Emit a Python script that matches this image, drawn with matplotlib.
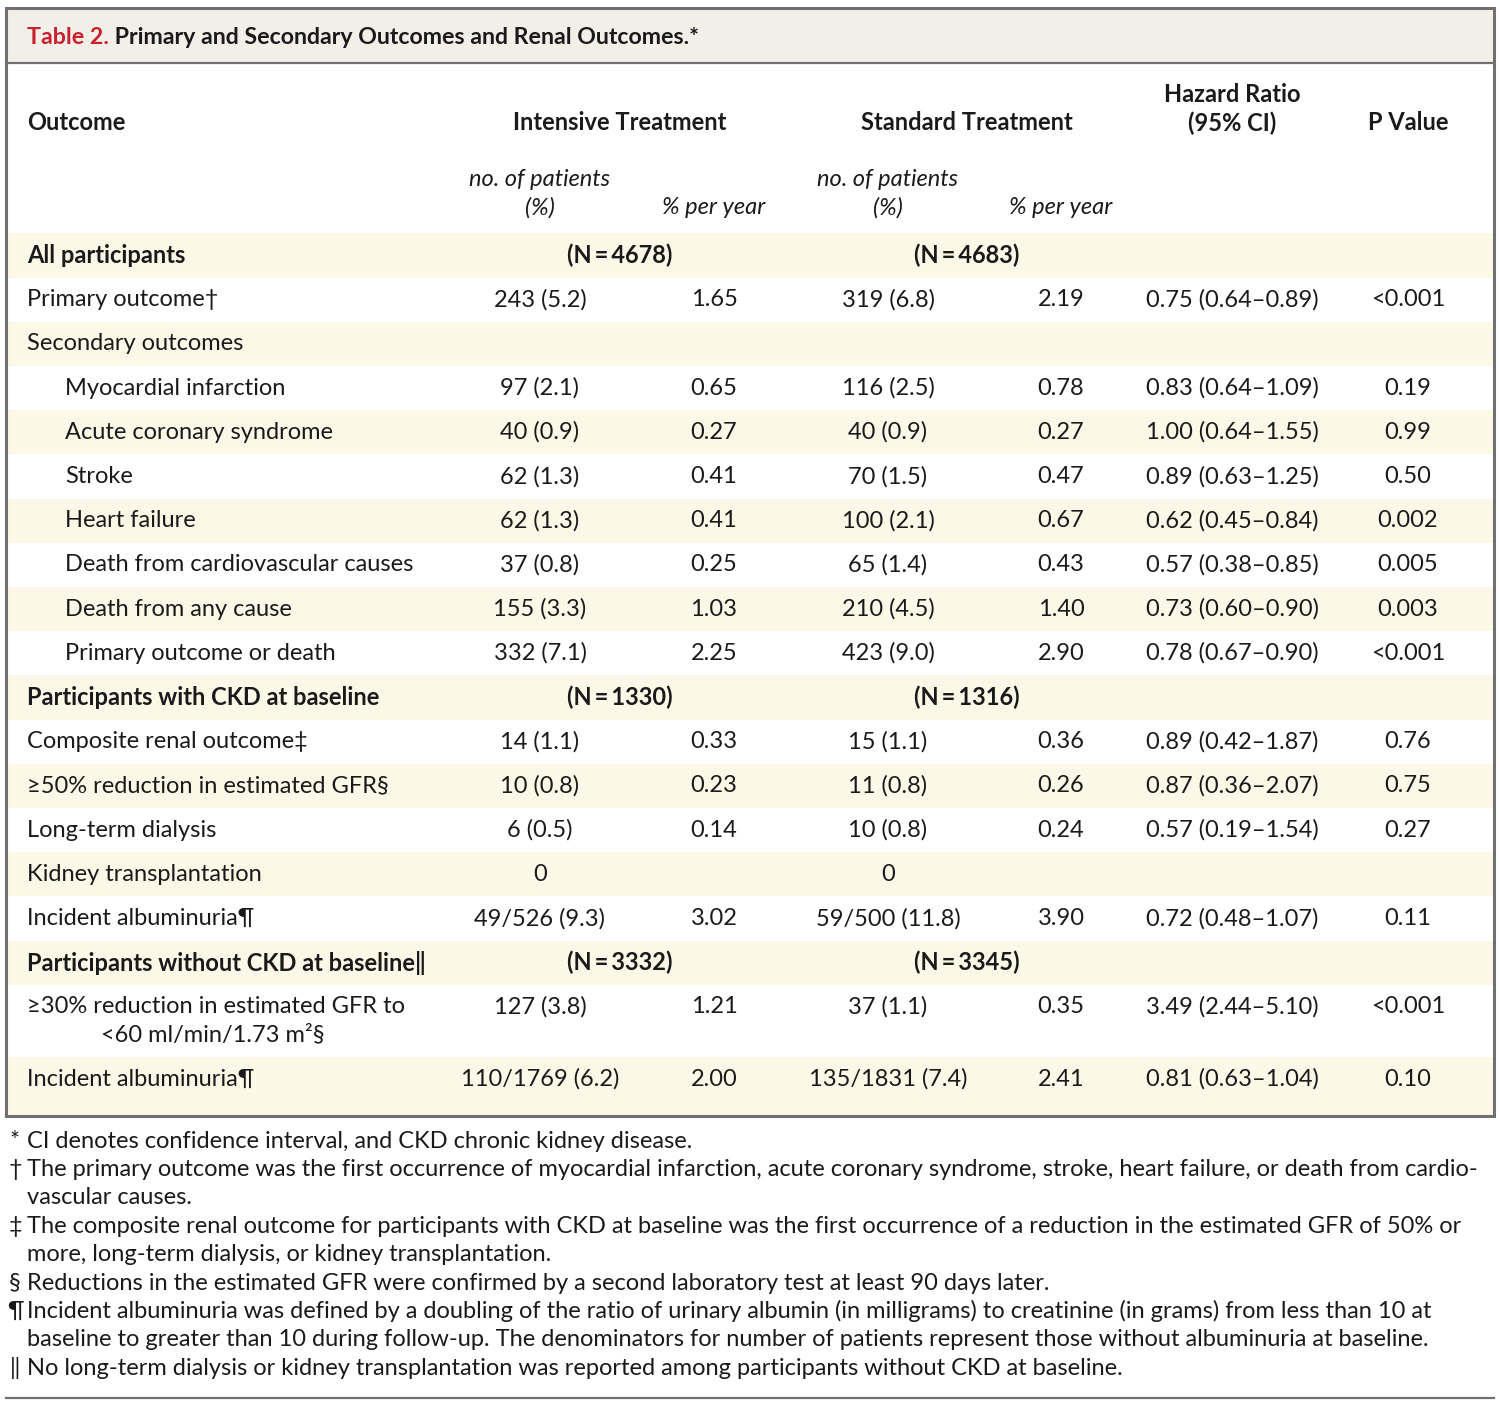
import matplotlib

matplotlib.use("Agg")
import matplotlib.pyplot as plt
from matplotlib.patches import Rectangle

plt.rcParams["font.family"] = ["Lato", "DejaVu Sans"]

# ---------------------------------------------------------------------------
# Table data
# ---------------------------------------------------------------------------
title_prefix = "Table 2."
title_rest = " Primary and Secondary Outcomes and Renal Outcomes.*"

outcomes = [
    "All participants",
    "Primary outcome†",
    "Secondary outcomes",
    "Myocardial infarction",
    "Acute coronary syndrome",
    "Stroke",
    "Heart failure",
    "Death from cardiovascular causes",
    "Death from any cause",
    "Primary outcome or death",
    "Participants with CKD at baseline",
    "Composite renal outcome‡",
    "≥50% reduction in estimated GFR§",
    "Long-term dialysis",
    "Kidney transplantation",
    "Incident albuminuria¶",
    "Participants without CKD at baseline‖",
    "≥30% reduction in estimated GFR to",
    "Incident albuminuria¶",
]
indented = [3, 4, 5, 6, 7, 8, 9]
group_rows = [0, 10, 16]
group_n_intensive = ["4678", "1330", "3332"]
group_n_standard = ["4683", "1316", "3345"]
continuation = {17: "<60 ml/min/1.73 m²§"}

intensive_n = ["", "243 (5.2)", "", "97 (2.1)", "40 (0.9)", "62 (1.3)", "62 (1.3)",
               "37 (0.8)", "155 (3.3)", "332 (7.1)", "", "14 (1.1)", "10 (0.8)",
               "6 (0.5)", "0", "49/526 (9.3)", "", "127 (3.8)", "110/1769 (6.2)"]
intensive_rate = ["", "1.65", "", "0.65", "0.27", "0.41", "0.41", "0.25", "1.03",
                  "2.25", "", "0.33", "0.23", "0.14", "", "3.02", "", "1.21", "2.00"]
standard_n = ["", "319 (6.8)", "", "116 (2.5)", "40 (0.9)", "70 (1.5)", "100 (2.1)",
              "65 (1.4)", "210 (4.5)", "423 (9.0)", "", "15 (1.1)", "11 (0.8)",
              "10 (0.8)", "0", "59/500 (11.8)", "", "37 (1.1)", "135/1831 (7.4)"]
standard_rate = ["", "2.19", "", "0.78", "0.27", "0.47", "0.67", "0.43", "1.40",
                 "2.90", "", "0.36", "0.26", "0.24", "", "3.90", "", "0.35", "2.41"]
hazard_ratio = ["", "0.75 (0.64–0.89)", "", "0.83 (0.64–1.09)", "1.00 (0.64–1.55)",
                "0.89 (0.63–1.25)", "0.62 (0.45–0.84)", "0.57 (0.38–0.85)",
                "0.73 (0.60–0.90)", "0.78 (0.67–0.90)", "", "0.89 (0.42–1.87)",
                "0.87 (0.36–2.07)", "0.57 (0.19–1.54)", "", "0.72 (0.48–1.07)", "",
                "3.49 (2.44–5.10)", "0.81 (0.63–1.04)"]
p_value = ["", "<0.001", "", "0.19", "0.99", "0.50", "0.002", "0.005", "0.003",
           "<0.001", "", "0.76", "0.75", "0.27", "", "0.11", "", "<0.001", "0.10"]

footnote_marks = ["*", "†", "", "‡", "", "§", "¶", "", "‖"]
footnote_lines = [
    "CI denotes confidence interval, and CKD chronic kidney disease.",
    "The primary outcome was the first occurrence of myocardial infarction, acute coronary syndrome, stroke, heart failure, or death from cardio-",
    "vascular causes.",
    "The composite renal outcome for participants with CKD at baseline was the first occurrence of a reduction in the estimated GFR of 50% or",
    "more, long-term dialysis, or kidney transplantation.",
    "Reductions in the estimated GFR were confirmed by a second laboratory test at least 90 days later.",
    "Incident albuminuria was defined by a doubling of the ratio of urinary albumin (in milligrams) to creatinine (in grams) from less than 10 at",
    "baseline to greater than 10 during follow-up. The denominators for number of patients represent those without albuminuria at baseline.",
    "No long-term dialysis or kidney transplantation was reported among participants without CKD at baseline.",
]

# ---------------------------------------------------------------------------
# Styling / layout (pixel coordinates on a 1500 x 1405 canvas)
# ---------------------------------------------------------------------------
TEXT = "#1a1a1a"
RED = "#c8202e"
FRAME = "#707070"
TITLE_BG = "#f2efe9"
STRIPE = "#fcf8e7"
FS = 17
FS_TITLE = 16.7
FS_NOTE = 17

COL_X = {"int_n": 540, "int_rate": 714, "std_n": 888, "std_rate": 1061,
         "hr": 1232, "p": 1408}
INT_CENTER, STD_CENTER = 620, 967
LEFT, INDENT = 27, 65
ROW0, ROW_H, EXTRA = 255.5, 44.2, 28.0

fig = plt.figure(figsize=(15, 14.05), dpi=100)
ax = fig.add_axes([0, 0, 1, 1])
ax.set_xlim(0, 1500)
ax.set_ylim(1405, 0)
ax.axis("off")

# row centres (row 17 is two lines tall)
centers = []
y = ROW0
for i in range(len(outcomes)):
    centers.append(y)
    y += ROW_H + (EXTRA if i in continuation else 0)

# frame, title band, zebra stripes
ax.add_patch(Rectangle((6, 8), 1488, 55, facecolor=TITLE_BG, edgecolor="none"))
for i, c in enumerate(centers):
    if i % 2:
        continue
    top = c - ROW_H / 2
    bottom = 1116 if i == len(outcomes) - 1 else c + ROW_H / 2 + (EXTRA if i in continuation else 0)
    ax.add_patch(Rectangle((6, top), 1488, bottom - top, facecolor=STRIPE, edgecolor="none"))
ax.add_patch(Rectangle((6, 8), 1488, 1108, facecolor="none", edgecolor=FRAME, lw=2.2))
ax.plot([6, 1494], [63, 63], color=FRAME, lw=1.6)
ax.plot([6, 1494], [1398, 1398], color=FRAME, lw=1.6)

# title
t = ax.text(LEFT, 38, title_prefix, color=RED, fontsize=FS_TITLE, fontweight="bold", va="center")
ax.annotate(title_rest, xy=(1, 0), xycoords=t, va="bottom", ha="left",
            color=TEXT, fontsize=FS_TITLE, fontweight="bold")

# column headers
hdr = dict(color=TEXT, fontsize=FS, fontweight="bold", va="center")
ax.text(LEFT, 123, "Outcome", ha="left", **hdr)
ax.text(INT_CENTER, 123, "Intensive Treatment", ha="center", **hdr)
ax.text(STD_CENTER, 123, "Standard Treatment", ha="center", **hdr)
ax.text(COL_X["hr"], 95, "Hazard Ratio", ha="center", **hdr)
ax.text(COL_X["hr"], 123, "(95% CI)", ha="center", **hdr)
ax.text(COL_X["p"], 123, "P Value", ha="center", **hdr)
sub = dict(color=TEXT, fontsize=FS, fontstyle="italic", va="center", ha="center")
for cx_n, cx_r in ((COL_X["int_n"], COL_X["int_rate"]), (COL_X["std_n"], COL_X["std_rate"])):
    ax.text(cx_n, 180, "no. of patients", **sub)
    ax.text(cx_n, 208, "(%)", **sub)
    ax.text(cx_r, 208, "% per year", **sub)

# body
body = dict(color=TEXT, fontsize=FS, va="center")
columns = [("int_n", intensive_n), ("int_rate", intensive_rate), ("std_n", standard_n),
           ("std_rate", standard_rate), ("hr", hazard_ratio), ("p", p_value)]
for i, (label, c) in enumerate(zip(outcomes, centers)):
    x = INDENT if i in indented else LEFT
    weight = "bold" if i in group_rows else "normal"
    ax.text(x, c, label, ha="left", fontweight=weight, **body)
    if i in continuation:
        ax.text(101, c + EXTRA, continuation[i], ha="left", **body)
    if i in group_rows:
        g = group_rows.index(i)
        ax.text(INT_CENTER, c, f"(N\u2009=\u2009{group_n_intensive[g]})", ha="center",
                fontweight="bold", **body)
        ax.text(STD_CENTER, c, f"(N\u2009=\u2009{group_n_standard[g]})", ha="center",
                fontweight="bold", **body)
        continue
    for key, values in columns:
        if values[i]:
            ax.text(COL_X[key], c, values[i], ha="center", **body)

# footnotes
for k, (mark, line) in enumerate(zip(footnote_marks, footnote_lines)):
    fy = 1141 + k * 28.4
    if mark:
        ax.text(15, fy, mark, ha="center", va="center", color=TEXT, fontsize=FS_NOTE)
    ax.text(LEFT, fy, line, ha="left", va="center", color=TEXT, fontsize=FS_NOTE)

fig.savefig("out.png", dpi=100, facecolor="white")
plt.close(fig)
